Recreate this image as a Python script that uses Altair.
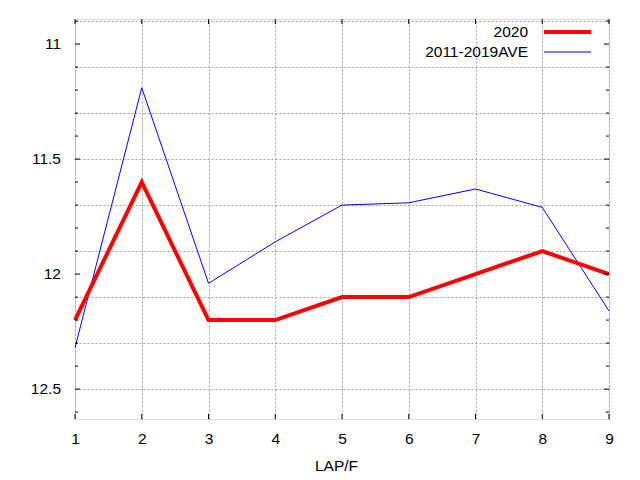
import altair as alt
import pandas as pd

LAPS = [1, 2, 3, 4, 5, 6, 7, 8, 9]
SERIES_2020 = [12.2, 11.6, 12.2, 12.2, 12.1, 12.1, 12.0, 11.9, 12.0]
SERIES_AVE = [12.32, 11.19, 12.04, 11.86, 11.70, 11.69, 11.63, 11.71, 12.16]
LEGEND_LABELS = ["2020", "2011-2019AVE"]
Y_MAJOR = [11.0, 11.5, 12.0, 12.5]
Y_LABELS = ["11", "11.5", "12", "12.5"]
Y_MINOR = [10.9, 11.1, 11.2, 11.3, 11.4, 11.6, 11.7, 11.8, 11.9,
           12.1, 12.2, 12.3, 12.4, 12.6]
Y_ALL = sorted(Y_MAJOR + Y_MINOR)
X_TITLE = "LAP/F"

W, H = 534, 400
FONT = "Liberation Sans"
FS = 15.5

df = pd.DataFrame({"lap": LAPS, "v2020": SERIES_2020, "vave": SERIES_AVE})
ymaj = pd.DataFrame({"y": Y_MAJOR, "label": Y_LABELS})
ymin = pd.DataFrame({"y": Y_MINOR})
xt = pd.DataFrame({"x": LAPS})

xscale = alt.Scale(domain=[1, 9], nice=False, zero=False)
yscale = alt.Scale(domain=[10.891, 12.630], nice=False, zero=False, reverse=True)

xaxis = alt.Axis(values=LAPS, grid=True, gridDash=[2, 2], gridColor="#a0a0a0",
                 ticks=False, domain=False, labelPadding=12, labelFontSize=FS,
                 labelColor="black", title=X_TITLE, titleFontSize=FS,
                 titleFontWeight="normal", titleColor="black", titlePadding=12,
                 titleX=261, labelFont=FONT, titleFont=FONT, format="d",
                 labelOverlap=False, labelFlush=False)
yaxis = alt.Axis(values=Y_ALL, grid=True, gridDash=[2, 2], gridColor="#a0a0a0",
                 ticks=False, domain=False, labels=False, title=None)

base = alt.Chart(df)

grid_layer = base.mark_line(opacity=0).encode(
    x=alt.X("lap:Q", scale=xscale, axis=xaxis),
    y=alt.Y("v2020:Q", scale=yscale, axis=yaxis),
)

ave_line = base.mark_line(color="#0000ff", strokeWidth=1).encode(
    x=alt.X("lap:Q", scale=xscale),
    y=alt.Y("vave:Q", scale=yscale),
)
red_line = base.mark_line(color="#ff0000", strokeWidth=4).encode(
    x=alt.X("lap:Q", scale=xscale),
    y=alt.Y("v2020:Q", scale=yscale),
)

ylabels = alt.Chart(ymaj).mark_text(align="right", baseline="middle", fontSize=FS,
                                    font=FONT, color="black").encode(
    y=alt.Y("y:Q", scale=yscale), x=alt.value(-14), text="label:N")

def yticks(data, length):
    left = alt.Chart(data).mark_rule(color="black", strokeWidth=1).encode(
        y=alt.Y("y:Q", scale=yscale), x=alt.value(0), x2=alt.value(length))
    right = alt.Chart(data).mark_rule(color="black", strokeWidth=1).encode(
        y=alt.Y("y:Q", scale=yscale), x=alt.value(W - length), x2=alt.value(W))
    return [left, right]

xt_bottom = alt.Chart(xt).mark_rule(color="black", strokeWidth=1).encode(
    x=alt.X("x:Q", scale=xscale), y=alt.value(H - 5), y2=alt.value(H))
xt_top = alt.Chart(xt).mark_rule(color="black", strokeWidth=1).encode(
    x=alt.X("x:Q", scale=xscale), y=alt.value(0), y2=alt.value(5))

leg1 = pd.DataFrame({"label": [LEGEND_LABELS[0]]})
leg2 = pd.DataFrame({"label": [LEGEND_LABELS[1]]})

leg_text1 = alt.Chart(leg1).mark_text(align="right", baseline="middle", fontSize=FS,
                                      font=FONT, color="black").encode(
    text="label:N", x=alt.value(453), y=alt.value(13))
leg_text2 = alt.Chart(leg2).mark_text(align="right", baseline="middle", fontSize=FS,
                                      font=FONT, color="black").encode(
    text="label:N", x=alt.value(453), y=alt.value(33))
leg_line1 = alt.Chart(leg1).mark_rule(color="#ff0000", strokeWidth=4).encode(
    x=alt.value(469), x2=alt.value(516), y=alt.value(13))
leg_line2 = alt.Chart(leg2).mark_rule(color="#0000ff", strokeWidth=1).encode(
    x=alt.value(469), x2=alt.value(516), y=alt.value(33))

layers = [grid_layer, ave_line, red_line, ylabels] + yticks(ymaj, 5) + yticks(ymin, 3) + \
    [xt_bottom, xt_top, leg_text1, leg_text2, leg_line1, leg_line2]

chart = alt.layer(*layers).properties(
    width=W, height=H,
    autosize=alt.AutoSizeParams(type="none"),
    padding={"left": 67, "top": 11, "right": 20, "bottom": 55},
    background="white",
).configure_view(stroke="black", strokeWidth=1).configure(font=FONT)

chart.save("out.html", embed_options={"renderer": "svg", "actions": False})
